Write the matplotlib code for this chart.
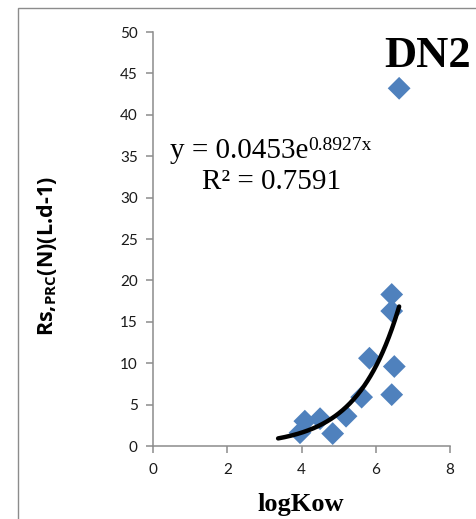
import matplotlib
matplotlib.use("Agg")
import matplotlib.pyplot as plt
import numpy as np
from matplotlib.patches import Rectangle

plt.rcParams["mathtext.fontset"] = "custom"
plt.rcParams["mathtext.bf"] = "Open Sans:bold"
plt.rcParams["mathtext.rm"] = "Open Sans"

# logKow vs sampling rate Rs (L/d)
log_kow = [3.96, 4.09, 4.50, 4.84, 5.20, 5.62, 5.83, 6.43, 6.43, 6.43, 6.50, 6.63]
rs_values = [1.6, 3.0, 3.3, 1.5, 3.6, 5.9, 10.6, 18.3, 16.3, 6.2, 9.6, 43.2]

# exponential trend line parameters
fit_a = 0.0453
fit_b = 0.8927
fit_r2 = 0.7591
fit_range = (3.37, 6.63)

x_ticks = [0, 2, 4, 6, 8]
y_ticks = [0, 5, 10, 15, 20, 25, 30, 35, 40, 45, 50]

W, H = 477, 519
fig = plt.figure(figsize=(W / 100, H / 100), dpi=100)
fig.patch.set_facecolor("white")


def fx(px):
    return px / W


def fy(py):
    return 1 - py / H


# outer chart frame
fig.add_artist(Rectangle((fx(18), -0.1), 1.2, fy(8) + 0.1,
                         transform=fig.transFigure, fill=False,
                         edgecolor="#8c8c8c", linewidth=1.0))

ax = fig.add_axes([fx(153), fy(446), fx(450) - fx(153), fy(32) - fy(446)])
ax.set_xlim(0, 8)
ax.set_ylim(0, 50)
ax.set_xticks(x_ticks)
ax.set_yticks(y_ticks)
ax.set_xticklabels([str(v) for v in x_ticks])
ax.set_yticklabels([str(v) for v in y_ticks])

for side in ("top", "right"):
    ax.spines[side].set_visible(False)
for side in ("left", "bottom"):
    ax.spines[side].set_color("#8c8c8c")
    ax.spines[side].set_linewidth(1.1)

ax.tick_params(axis="both", direction="out", length=5, width=1.1,
               color="#8c8c8c", labelsize=11, labelcolor="#1a1a1a")
for lab in ax.get_xticklabels() + ax.get_yticklabels():
    lab.set_fontfamily("Lato")
ax.tick_params(axis="x", pad=7)
ax.tick_params(axis="y", pad=6)

ax.scatter(log_kow, rs_values, marker="D", s=135, color="#4F81BD",
           edgecolors="none", zorder=3, clip_on=False)

xs = np.linspace(fit_range[0], fit_range[1], 200)
ax.plot(xs, fit_a * np.exp(fit_b * xs), color="black", linewidth=3.2,
        solid_capstyle="round", zorder=4)

# trend line equation and R²
fig.text(fx(170), fy(158), f"y = {fit_a:.4f}e", fontsize=21,
         family="Liberation Serif", ha="left", va="baseline")
fig.text(fx(308), fy(150), f"{fit_b:.4f}x", fontsize=14,
         family="Liberation Serif", ha="left", va="baseline")
fig.text(fx(202), fy(189), f"R² = {fit_r2:.4f}", fontsize=21,
         family="Liberation Serif", ha="left", va="baseline")

fig.text(fx(384), fy(67), "DN2", fontsize=32, fontweight="bold",
         family="Liberation Serif", ha="left", va="baseline")

fig.text(fx(301), fy(505), "logKow", fontsize=19, fontweight="bold",
         family="Liberation Serif", ha="center", va="center")
fig.text(fx(47), fy(256), r"Rs,$_{\mathbf{PRC}}$(N)(L.d-1)",
         rotation=90, fontsize=15.5, fontweight="bold", family="Open Sans",
         ha="center", va="center")

fig.savefig("out.png", dpi=100, facecolor="white")
